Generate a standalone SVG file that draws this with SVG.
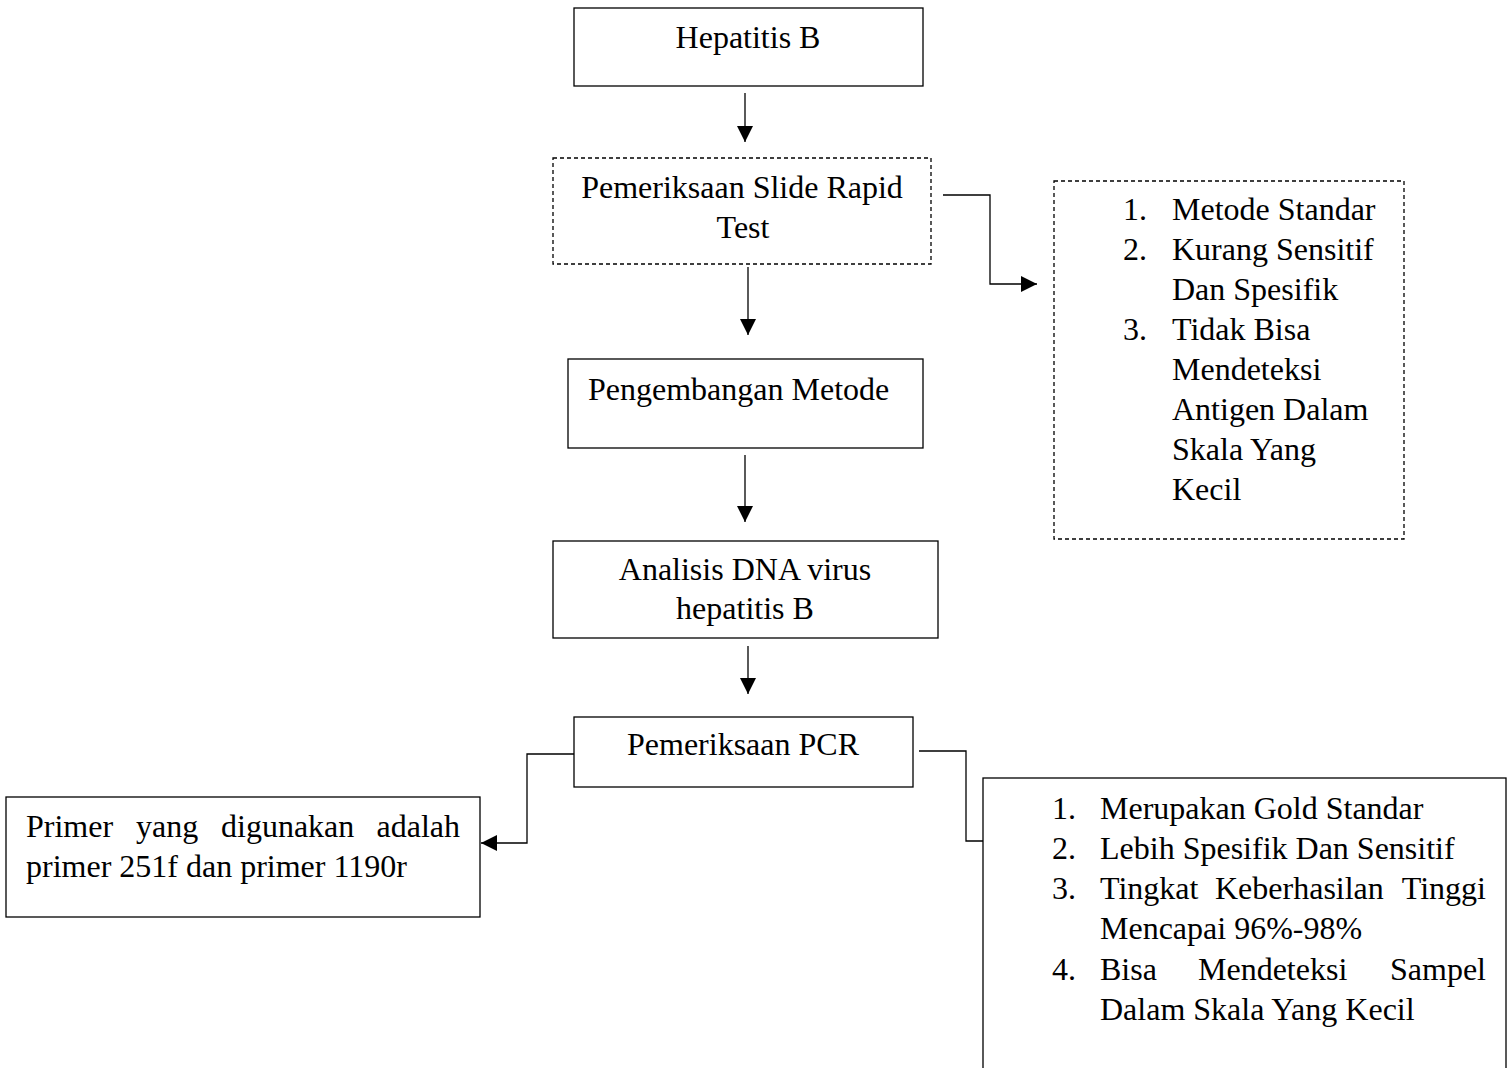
<svg xmlns="http://www.w3.org/2000/svg" width="1510" height="1068" viewBox="0 0 1510 1068">
<defs>
<marker id="ah" markerUnits="userSpaceOnUse" markerWidth="16" markerHeight="16" refX="16" refY="8" orient="auto">
<path d="M0,0 L16,8 L0,16 z" fill="#000"/>
</marker>
<style>
.box{fill:#fff;stroke:#000;stroke-width:1.3}
.dash{fill:#fff;stroke:#000;stroke-width:1.3;stroke-dasharray:4 3}
.t{font-family:"Liberation Serif","Times New Roman",serif;font-size:32px;fill:#000}
.c{text-anchor:middle}
.e{text-anchor:end}
.ln{fill:none;stroke:#000;stroke-width:1.3}
</style>
</defs>
<rect width="1510" height="1068" fill="#fff"/>
<g id="connectors">
<path class="ln" d="M745,93 V142" marker-end="url(#ah)"/>
<path class="ln" d="M748,267 V335" marker-end="url(#ah)"/>
<path class="ln" d="M745,455 V522" marker-end="url(#ah)"/>
<path class="ln" d="M748,646 V694" marker-end="url(#ah)"/>
<path class="ln" d="M943,195 H990 V284 H1037" marker-end="url(#ah)"/>
<path class="ln" d="M574,754 H527 V843 H481" marker-end="url(#ah)"/>
<path class="ln" d="M919,751 H966 V841 H983"/>
</g>
<g id="hepatitis-b">
<rect class="box" x="574" y="8" width="349" height="78"/>
<text class="t c" x="748" y="48">Hepatitis B</text>
</g>
<g id="rapid-test">
<rect class="dash" x="553" y="158" width="378" height="106"/>
<text class="t c" x="742" y="198">Pemeriksaan Slide Rapid</text>
<text class="t c" x="743" y="238">Test</text>
</g>
<g id="rapid-notes">
<rect class="dash" x="1054" y="181" width="350" height="358"/>
<text class="t" x="1123" y="220">1.</text>
<text class="t" x="1172" y="220">Metode Standar</text>
<text class="t" x="1123" y="260">2.</text>
<text class="t" x="1172" y="260">Kurang Sensitif</text>
<text class="t" x="1172" y="300">Dan Spesifik</text>
<text class="t" x="1123" y="340">3.</text>
<text class="t" x="1172" y="340">Tidak Bisa</text>
<text class="t" x="1172" y="380">Mendeteksi</text>
<text class="t" x="1172" y="420">Antigen Dalam</text>
<text class="t" x="1172" y="460">Skala Yang</text>
<text class="t" x="1172" y="500">Kecil</text>
</g>
<g id="pengembangan">
<rect class="box" x="568" y="359" width="355" height="89"/>
<text class="t" x="588" y="400">Pengembangan Metode</text>
</g>
<g id="analisis-dna">
<rect class="box" x="553" y="541" width="385" height="97"/>
<text class="t c" x="745" y="580">Analisis DNA virus</text>
<text class="t c" x="745" y="619">hepatitis B</text>
</g>
<g id="pcr">
<rect class="box" x="574" y="717" width="339" height="70"/>
<text class="t c" x="743" y="755">Pemeriksaan PCR</text>
</g>
<g id="primer">
<rect class="box" x="6" y="797" width="474" height="120"/>
<text class="t" x="26" y="837">Primer</text>
<text class="t" x="136" y="837">yang</text>
<text class="t" x="221" y="837">digunakan</text>
<text class="t e" x="460" y="837">adalah</text>
<text class="t" x="26" y="877">primer 251f dan primer 1190r</text>
</g>
<g id="pcr-notes">
<rect class="box" x="983" y="778" width="523" height="300"/>
<text class="t" x="1052" y="819">1.</text>
<text class="t" x="1100" y="819">Merupakan Gold Standar</text>
<text class="t" x="1052" y="859">2.</text>
<text class="t" x="1100" y="859">Lebih Spesifik Dan Sensitif</text>
<text class="t" x="1052" y="899">3.</text>
<text class="t" x="1100" y="899">Tingkat</text>
<text class="t" x="1215" y="899">Keberhasilan</text>
<text class="t e" x="1486" y="899">Tinggi</text>
<text class="t" x="1100" y="939">Mencapai 96%-98%</text>
<text class="t" x="1052" y="980">4.</text>
<text class="t" x="1100" y="980">Bisa</text>
<text class="t" x="1198" y="980">Mendeteksi</text>
<text class="t e" x="1486" y="980">Sampel</text>
<text class="t" x="1100" y="1020">Dalam Skala Yang Kecil</text>
</g>
</svg>
